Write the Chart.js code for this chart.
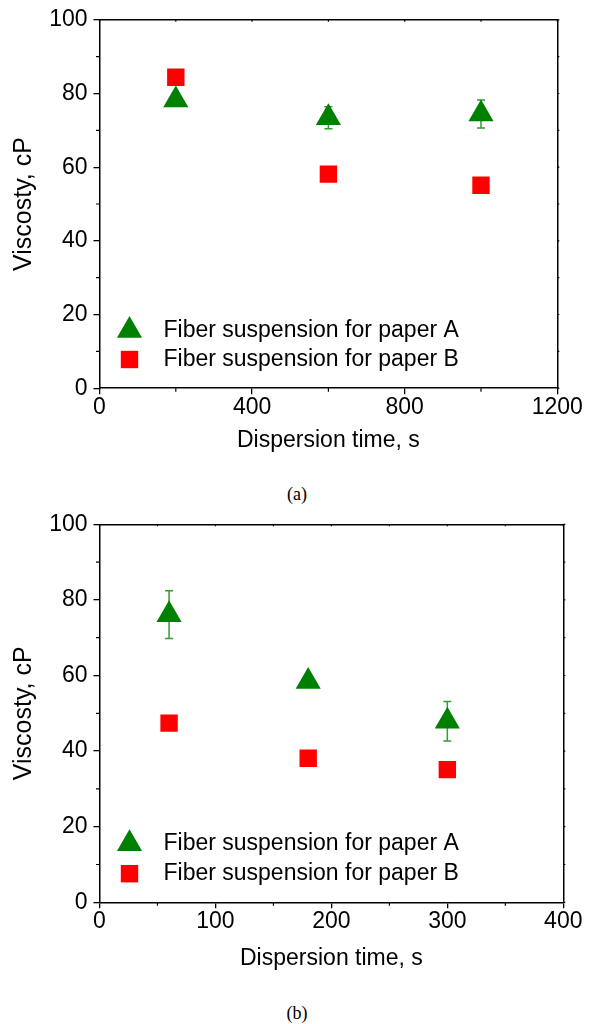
<!DOCTYPE html>
<html>
<head>
<meta charset="utf-8">
<title>Viscosity vs dispersion time</title>
<script src="https://cdn.jsdelivr.net/npm/chart.js@4.4.0/dist/chart.umd.min.js"></script>
<style>
    html, body { margin: 0; padding: 0; background: #fff; }
    body { width: 592px; height: 1024px; position: relative; overflow: hidden; }
    .panel { position: absolute; left: 0; width: 592px; }
    .caption {
        position: absolute; left: 0; width: 594px; height: 20px; line-height: 20px;
        text-align: center; color: #000;
        font-family: "Liberation Serif", "Times New Roman", serif; font-size: 18px;
    }
</style>
</head>
<body>
<div class="panel" style="top:0;height:475px"><canvas id="chartA" width="592" height="475"></canvas></div>
<div class="caption" style="top:484px">(a)</div>
<div class="panel" style="top:500px;height:490px"><canvas id="chartB" width="592" height="490"></canvas></div>
<div class="caption" style="top:1003px">(b)</div>

<script>
// Dados

// painel (a)
const timeA = [200, 600, 1000];
const viscA_paperA = [78.2, 73.4, 74.4];
const errA_paperA = [1.0, 3.0, 3.8];
const viscA_paperB = [84.4, 58.1, 55.1];

// painel (b)
const timeB = [60, 180, 300];
const viscB_paperA = [76.1, 58.4, 47.9];
const errB_paperA = [6.3, 1.0, 5.2];
const viscB_paperB = [47.4, 38.1, 35.1];

// eixos
const xTicksA = [0, 400, 800, 1200];
const xMinorA = [200, 600, 1000];
const xTicksB = [0, 100, 200, 300, 400];
const xMinorB = [50, 150, 250, 350];
const yTicks = [0, 20, 40, 60, 80, 100];
const yMinor = [10, 30, 50, 70, 90];

const seriesLabels = ['Fiber suspension for paper A', 'Fiber suspension for paper B'];
const xTitle = 'Dispersion time, s';
const yTitle = 'Viscosty, cP';

const FONT = '"Liberation Sans", Arial, sans-serif';
const TEXT_SIZE = 23;
const GREEN = '#008000';
const RED = '#ff0000';

Chart.defaults.font.family = FONT;
Chart.defaults.color = '#000';

// barras de erro verticais
const errorBars = {
    id: 'errorBars',
    beforeDatasetsDraw(chart) {
        const ctx = chart.ctx;
        const yScale = chart.scales.y;
        chart.data.datasets.forEach((ds, i) => {
            if (!ds.errorBars) return;
            const meta = chart.getDatasetMeta(i);
            ctx.save();
            ctx.strokeStyle = ds.errorColor;
            ctx.lineWidth = 1.5;
            meta.data.forEach((pt, j) => {
                const v = ds.data[j].y;
                const e = ds.errorBars[j];
                const yTop = yScale.getPixelForValue(v + e);
                const yBot = yScale.getPixelForValue(v - e);
                ctx.beginPath();
                ctx.moveTo(pt.x, yTop);
                ctx.lineTo(pt.x, yBot);
                ctx.moveTo(pt.x - 4, yTop);
                ctx.lineTo(pt.x + 4, yTop);
                ctx.moveTo(pt.x - 4, yBot);
                ctx.lineTo(pt.x + 4, yBot);
                ctx.stroke();
            });
            ctx.restore();
        });
    }
};

// ticks menores e ticks dos eixos de cima / direita
const extraTicks = {
    id: 'extraTicks',
    afterDraw(chart, args, opts) {
        const {ctx, chartArea} = chart;
        const xs = chart.scales.x;
        const ys = chart.scales.y;
        ctx.save();
        ctx.strokeStyle = '#000';
        ctx.lineWidth = 1.2;
        ctx.beginPath();
        opts.xMinor.forEach(v => {
            const px = xs.getPixelForValue(v);
            ctx.moveTo(px, chartArea.bottom);
            ctx.lineTo(px, chartArea.bottom + 3.5);
        });
        opts.xMajor.concat(opts.xMinor).forEach(v => {
            const px = xs.getPixelForValue(v);
            ctx.moveTo(px, chartArea.top);
            ctx.lineTo(px, chartArea.top + 2);
        });
        opts.yMinor.forEach(v => {
            const py = ys.getPixelForValue(v);
            ctx.moveTo(chartArea.left, py);
            ctx.lineTo(chartArea.left - 3.5, py);
        });
        opts.yMajor.concat(opts.yMinor).forEach(v => {
            const py = ys.getPixelForValue(v);
            ctx.moveTo(chartArea.right, py);
            ctx.lineTo(chartArea.right + 2, py);
        });
        ctx.stroke();
        ctx.restore();
    }
};

// legenda dentro da área do gráfico
const insideLegend = {
    id: 'insideLegend',
    afterDatasetsDraw(chart, args, opts) {
        const {ctx, chartArea} = chart;
        ctx.save();
        ctx.font = opts.fontSize + 'px ' + FONT;
        ctx.textBaseline = 'middle';
        ctx.textAlign = 'left';
        chart.data.datasets.forEach((ds, i) => {
            const y = chartArea.bottom - opts.rows[i];
            const xm = chartArea.left + opts.markerX;
            ctx.fillStyle = ds.backgroundColor;
            ctx.strokeStyle = ds.backgroundColor;
            Chart.helpers.drawPoint(ctx, {
                pointStyle: ds.pointStyle,
                radius: ds.pointRadius,
                rotation: 0,
                borderWidth: 0
            }, xm, y);
            ctx.fillStyle = '#000';
            ctx.fillText(ds.label, chartArea.left + opts.textX, y);
        });
        ctx.restore();
    }
};

function toPoints(xs, ys) {
    return xs.map((x, i) => ({x: x, y: ys[i]}));
}

function fixedSize(prop, value) {
    return function(scale) { scale[prop] = value; };
}

function createPanel(canvasId, box, times, seriesA, errA, seriesB, xTicks, xMinor, legendRows) {
    const canvas = document.getElementById(canvasId);
    const xMax = xTicks[xTicks.length - 1];
    const titleBottom = box.titleMid + TEXT_SIZE * 0.6;

    return new Chart(canvas.getContext('2d'), {
        type: 'scatter',
        data: {
            datasets: [{
                label: seriesLabels[0],
                data: toPoints(times, seriesA),
                errorBars: errA,
                errorColor: '#2f9f2f',
                pointStyle: 'triangle',
                pointRadius: 14.5,
                backgroundColor: GREEN,
                borderColor: GREEN,
                borderWidth: 0
            }, {
                label: seriesLabels[1],
                data: toPoints(times, seriesB),
                pointStyle: 'rect',
                pointRadius: 12.3,
                backgroundColor: RED,
                borderColor: RED,
                borderWidth: 0
            }]
        },
        options: {
            responsive: false,
            animation: false,
            events: [],
            layout: {
                padding: {left: 0, top: 0, right: 0, bottom: box.h - titleBottom}
            },
            plugins: {
                legend: {display: false},
                tooltip: {enabled: false},
                extraTicks: {xMajor: xTicks, xMinor: xMinor, yMajor: yTicks, yMinor: yMinor},
                insideLegend: {fontSize: TEXT_SIZE, markerX: 30, textX: 64, rows: legendRows}
            },
            scales: {
                x: {
                    type: 'linear',
                    position: 'bottom',
                    min: 0,
                    max: xMax,
                    afterBuildTicks: s => { s.ticks = xTicks.map(v => ({value: v})); },
                    afterFit: fixedSize('height', titleBottom - box.bottom),
                    grid: {drawOnChartArea: false, drawTicks: true, tickLength: 6, color: '#000', lineWidth: 1.3},
                    border: {display: true, color: '#000', width: 1.5},
                    ticks: {
                        font: {size: TEXT_SIZE},
                        padding: 0,
                        maxRotation: 0,
                        autoSkip: false,
                        callback: v => String(v)
                    },
                    title: {display: true, text: xTitle, font: {size: TEXT_SIZE}, padding: {top: 0, bottom: 0}}
                },
                x2: {
                    type: 'linear',
                    axis: 'x',
                    position: 'top',
                    min: 0,
                    max: xMax,
                    afterFit: fixedSize('height', box.top),
                    grid: {display: false},
                    border: {display: true, color: '#000', width: 1.5},
                    ticks: {display: false}
                },
                y: {
                    type: 'linear',
                    position: 'left',
                    min: 0,
                    max: 100,
                    afterBuildTicks: s => { s.ticks = yTicks.map(v => ({value: v})); },
                    afterFit: fixedSize('width', box.left),
                    grid: {drawOnChartArea: false, drawTicks: true, tickLength: 6, color: '#000', lineWidth: 1.3},
                    border: {display: true, color: '#000', width: 1.5},
                    ticks: {font: {size: TEXT_SIZE}, padding: 6, callback: v => String(v)},
                    title: {display: true, text: yTitle, font: {size: 25}, padding: {top: 9, bottom: 0}}
                },
                y2: {
                    type: 'linear',
                    axis: 'y',
                    position: 'right',
                    min: 0,
                    max: 100,
                    afterFit: fixedSize('width', 592 - box.right),
                    grid: {display: false},
                    border: {display: true, color: '#000', width: 1.5},
                    ticks: {display: false}
                }
            }
        },
        plugins: [errorBars, extraTicks, insideLegend]
    });
}

createPanel('chartA',
    {h: 475, left: 99.5, right: 557.3, top: 15.3, bottom: 388.2, titleMid: 440.3},
    timeA, viscA_paperA, errA_paperA, viscA_paperB, xTicksA, xMinorA, [57.7, 28.7]);

createPanel('chartB',
    {h: 490, left: 99.5, right: 563.3, top: 24.3, bottom: 402.3, titleMid: 458.7},
    timeB, viscB_paperA, errB_paperA, viscB_paperB, xTicksB, xMinorB, [58.6, 28.6]);
</script>
</body>
</html>
